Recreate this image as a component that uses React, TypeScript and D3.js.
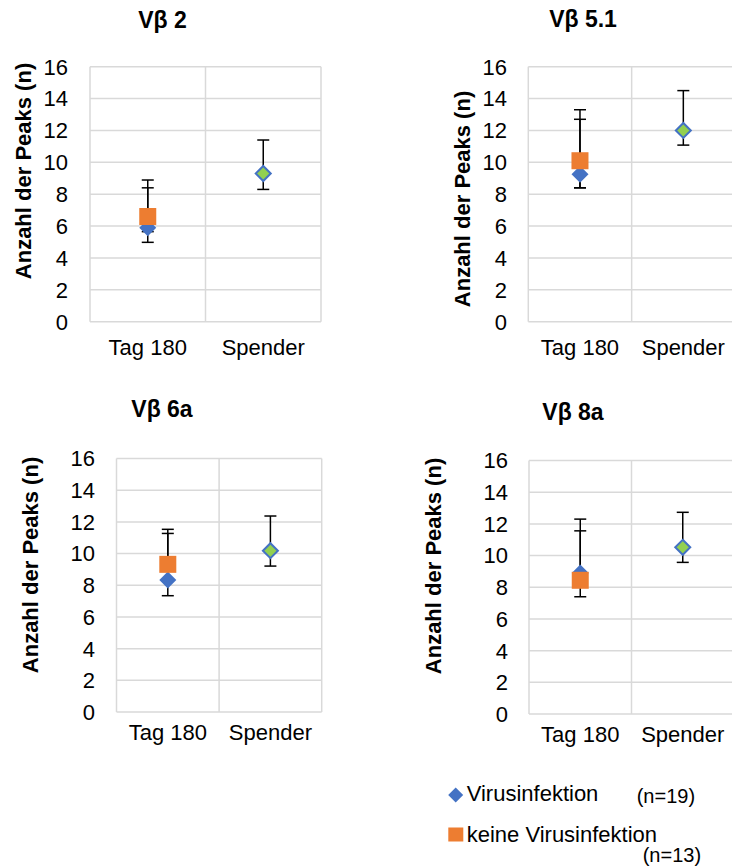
import React from "react";
import * as d3 from "d3";

// Vβ families, one small chart each
const panelTitles = ["Vβ 2", "Vβ 5.1", "Vβ 6a", "Vβ 8a"];
const categories = ["Tag 180", "Spender"];
const yTicks = [0, 2, 4, 6, 8, 10, 12, 14, 16];

// Virusinfektion (n=19): [Tag 180, Spender]
const virusMean = [
  [5.9, 9.3],
  [9.25, 12.0],
  [8.33, 10.18],
  [8.9, 10.52],
];
const virusHigh = [
  [8.4, 11.4],
  [12.7, 14.5],
  [11.27, 12.37],
  [12.3, 12.73],
];
const virusLow = [
  [4.98, 8.3],
  [8.4, 11.08],
  [7.34, 9.21],
  [8.6, 9.57],
];

// keine Virusinfektion (n=13): Tag 180 only
const noVirusMean = [6.6, 10.1, 9.32, 8.44];
const noVirusHigh = [8.89, 13.3, 11.53, 11.56];
const noVirusLow = [5.65, 8.4, 9.0, 7.4];

const legendLabels = ["Virusinfektion", "keine Virusinfektion"];
const legendCounts = ["(n=19)", "(n=13)"];

const BLUE = "#4472C4";
const ORANGE = "#ED7D31";
const GREEN = "#92D050";
const GRID = "#D9D9D9";
const FONT = "'Liberation Sans', Arial, Helvetica, sans-serif";

type Layout = {
  left: number;
  right: number;
  y0: number;
  y16: number;
  tickRight: number;
  yTitleX: number;
  yTitleY: number;
  titleX: number;
  titleY: number;
  catY: number;
};

const layouts: Layout[] = [
  { left: 90, right: 321, y0: 321.7, y16: 66.7, tickRight: 68, yTitleX: 23, yTitleY: 171, titleX: 162.5, titleY: 28, catY: 355 },
  { left: 528.3, right: 735, y0: 321.7, y16: 66.7, tickRight: 507, yTitleX: 462, yTitleY: 199, titleX: 583, titleY: 27, catY: 355 },
  { left: 116.5, right: 321.7, y0: 712, y16: 458.5, tickRight: 95, yTitleX: 30, yTitleY: 565, titleX: 162, titleY: 417, catY: 740 },
  { left: 529, right: 734, y0: 714, y16: 460.5, tickRight: 508, yTitleX: 433, yTitleY: 566, titleX: 573, titleY: 420, catY: 742 },
];

const diamond = (cx: number, cy: number, r: number) =>
  `M${cx},${cy - r}L${cx + r},${cy}L${cx},${cy + r}L${cx - r},${cy}Z`;

function ErrorBar({ x, yHi, yLo }: { x: number; yHi: number; yLo: number }) {
  const cap = 6;
  return (
    <g stroke="#000" strokeWidth={1.5}>
      <line x1={x} x2={x} y1={yHi} y2={yLo} />
      <line x1={x - cap} x2={x + cap} y1={yHi} y2={yHi} />
      <line x1={x - cap} x2={x + cap} y1={yLo} y2={yLo} />
    </g>
  );
}

function Panel({ i }: { i: number }) {
  const L = layouts[i];
  const y = d3.scaleLinear().domain([0, 16]).range([L.y0, L.y16]);
  const x = d3.scaleBand<string>().domain(categories).range([L.left, L.right]).padding(0);
  const cx = (c: string) => (x(c) as number) + x.bandwidth() / 2;
  const c0 = cx(categories[0]);
  const c1 = cx(categories[1]);

  return (
    <g>
      <text x={L.titleX} y={L.titleY} textAnchor="middle" fontWeight="bold" fontSize={23} fontFamily={FONT}>
        {panelTitles[i]}
      </text>
      {/* horizontal gridlines */}
      {yTicks.map((t) => (
        <line key={t} x1={L.left} x2={L.right} y1={y(t)} y2={y(t)} stroke={GRID} strokeWidth={1.5} />
      ))}
      {/* category boundaries */}
      {[L.left, (x(categories[1]) as number), L.right].map((v, k) => (
        <line key={k} x1={v} x2={v} y1={y(0)} y2={y(16)} stroke={GRID} strokeWidth={1.5} />
      ))}
      {yTicks.map((t) => (
        <text key={t} x={L.tickRight} y={y(t)} dy="0.36em" textAnchor="end" fontSize={22} fontFamily={FONT} fill="#000">
          {t}
        </text>
      ))}
      {categories.map((c) => (
        <text key={c} x={cx(c)} y={L.catY} textAnchor="middle" fontSize={22} fontFamily={FONT} fill="#000">
          {c}
        </text>
      ))}
      <text
        transform={`translate(${L.yTitleX},${L.yTitleY}) rotate(-90)`}
        dy="0.36em"
        textAnchor="middle"
        fontWeight="bold"
        fontSize={22}
        fontFamily={FONT}
      >
        Anzahl der Peaks (n)
      </text>

      {/* error bars */}
      <ErrorBar x={c0} yHi={y(virusHigh[i][0])} yLo={y(virusLow[i][0])} />
      <ErrorBar x={c1} yHi={y(virusHigh[i][1])} yLo={y(virusLow[i][1])} />
      <ErrorBar x={c0} yHi={y(noVirusHigh[i])} yLo={y(noVirusLow[i])} />

      {/* Virusinfektion markers */}
      <path d={diamond(c0, y(virusMean[i][0]), 8.5)} fill={BLUE} />
      <path d={diamond(c1, y(virusMean[i][1]), 7.5)} fill={GREEN} stroke={BLUE} strokeWidth={2} />
      {/* keine Virusinfektion marker */}
      <rect x={c0 - 8.5} y={y(noVirusMean[i]) - 8.5} width={17} height={17} fill={ORANGE} />
    </g>
  );
}

export default function App() {
  return (
    <svg
      width={732}
      height={867}
      style={{ position: "absolute", left: 0, top: 0, background: "#fff" }}
    >
      <rect width={732} height={867} fill="#fff" />
      {layouts.map((_, i) => (
        <Panel key={i} i={i} />
      ))}
      {/* legend */}
      <g fontFamily={FONT} fill="#000">
        <path d={diamond(455.7, 795, 7.5)} fill={BLUE} />
        <text x={466.7} y={801} fontSize={22}>{legendLabels[0]}</text>
        <text x={636.7} y={803} fontSize={20}>{legendCounts[0]}</text>
        <rect x={448.3} y={827.5} width={15} height={14} fill={ORANGE} />
        <text x={466.7} y={841.7} fontSize={22}>{legendLabels[1]}</text>
        <text x={642.7} y={861.7} fontSize={20}>{legendCounts[1]}</text>
      </g>
    </svg>
  );
}
